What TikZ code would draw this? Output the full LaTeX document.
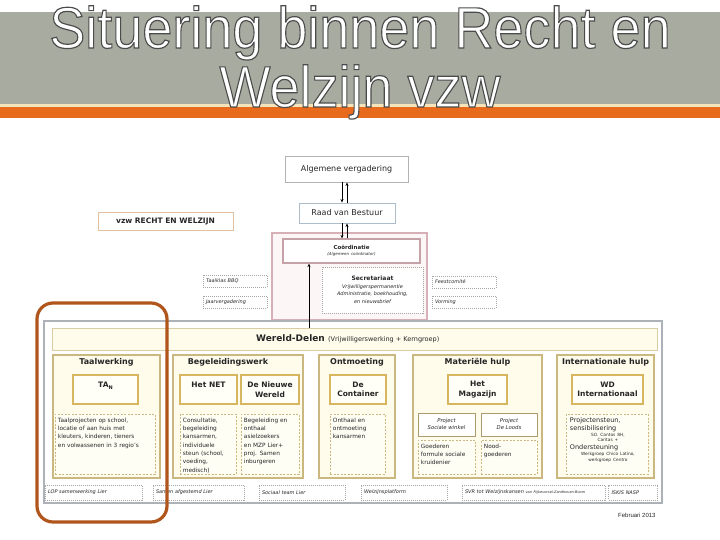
\documentclass[tikz,border=0pt]{standalone}
\usepackage{fontspec}
\setmainfont{DejaVu Sans}
\newfontfamily\titlefont{Liberation Sans}
\usetikzlibrary{positioning,arrows.meta}

\definecolor{bandgray}{RGB}{168,172,160}
\definecolor{bandcream}{RGB}{244,228,188}
\definecolor{bandorange}{RGB}{232,106,28}
\definecolor{ringbrown}{RGB}{176,86,28}
\definecolor{coltan}{RGB}{202,184,128}
\definecolor{colfill}{RGB}{255,252,236}
\definecolor{unitgold}{RGB}{216,182,96}
\definecolor{pinkline}{RGB}{214,176,182}
\definecolor{pinkfill}{RGB}{252,246,246}
\definecolor{framegray}{RGB}{172,178,184}
\definecolor{vzwline}{RGB}{226,192,160}
\definecolor{raadline}{RGB}{172,188,202}

% witte titel met donkere rand
\newcommand{\outlined}[1]{\special{pdf:literal direct 2 Tr 1.1 w 0.3 G}#1\special{pdf:literal direct 0 Tr}}

\begin{document}
\begin{tikzpicture}[x=1pt,y=-1pt,
    every node/.style={text=black!85,inner sep=1pt},
    arr/.style={-{Stealth[length=3.5pt,width=3pt]},black,line width=0.6pt},
    titletext/.style={anchor=base,text=white,font=\titlefont\fontsize{54}{60}\selectfont},
    topbox/.style={draw=gray!60,fill=white,line width=0.9pt,font=\fontsize{8}{9}\selectfont},
    sidebox/.style={draw=gray!70,dash pattern=on 1pt off 1pt,line width=0.5pt,text width=58,
        inner xsep=3pt,minimum height=12,align=left,font=\fontsize{5}{6}\selectfont\itshape},
    frame/.style={draw=framegray,fill=white,line width=1.5pt},
    header/.style={draw=coltan!70,fill=colfill,line width=0.8pt,minimum width=605,minimum height=22},
    column/.style={draw=coltan,fill=colfill,line width=1.1pt,minimum height=123},
    coltitle/.style={font=\fontsize{8}{9}\selectfont\bfseries},
    unitbox/.style={draw=unitgold,fill=white!60!colfill,line width=1.8pt,minimum height=29,
        align=center,font=\fontsize{7.5}{9.5}\selectfont\bfseries},
    notebox/.style={draw=coltan,dash pattern=on 2pt off 1.5pt,line width=0.5pt,
        fill=white!50!colfill,minimum height=60},
    notetext/.style={anchor=north west,inner sep=0pt,align=left,font=\fontsize{5.8}{8.3}\selectfont},
    projbox/.style={draw=coltan!85!black,line width=0.8pt,fill=white,minimum height=23,
        align=center,font=\fontsize{5.3}{7}\selectfont\itshape},
    linkbox/.style={draw=gray!70,dash pattern=on 1pt off 1pt,line width=0.6pt,minimum height=15,
        inner xsep=3pt,align=left,font=\fontsize{5}{6}\selectfont\itshape}]
\useasboundingbox (0,0) rectangle (720,540);

% titelband
\fill[bandgray] (0,12) rectangle (720,104);
\fill[bandcream] (0,104) rectangle (720,107);
\fill[bandorange] (0,107) rectangle (720,118);
\foreach \txt/\yy [count=\i] in {Situering binnen Recht en/48,Welzijn vzw/107}
    \node[titletext] (tt\i) at (360,\yy) {\scalebox{1}[1.08]{\outlined{\txt}}};

% bestuur
\node[topbox,minimum width=123,minimum height=26] (alg) at (346.5,169) {Algemene vergadering};
\node[topbox,draw=raadline,minimum width=96,minimum height=20] (raad) at (347,213) {Raad van Bestuur};
\node[topbox,draw=vzwline,minimum width=135,minimum height=18,font=\fontsize{7.5}{9}\selectfont\bfseries] (vzw) at (165.5,221) {vzw RECHT EN WELZIJN};
\node[draw=pinkline,fill=pinkfill,line width=1.2pt,minimum width=155,minimum height=87] (dagbestuur) at (349.5,276.5) {};
\node[draw=pinkline!92!black,fill=white,line width=1.2pt,minimum width=137,minimum height=24,
    text width=130,align=center,font=\fontsize{5.5}{6.5}\selectfont] (coord) at (351.5,251)
    {\textbf{Coördinatie}\\{\fontsize{4}{5}\selectfont\itshape (Algemeen coördinator)}};
\node[draw=gray!70,dash pattern=on 1pt off 1pt,line width=0.5pt,fill=white,minimum width=101,minimum height=46,
    text width=95,align=center,font=\fontsize{5}{7.5}\selectfont] (secr) at (372.5,290)
    {{\fontsize{6}{7.5}\selectfont\bfseries Secretariaat}\\ \itshape Vrijwilligerspermanentie\\ Administratie, boekhouding,\\ en nieuwsbrief};
\node[sidebox] (bbq) at (235,281) {Taalklas BBQ};
\node[sidebox] (jaarv) at (235,302) {Jaarvergadering};
\node[sidebox] (feest) at (464,282) {Feestcomité};
\node[sidebox] (vorm) at (464,302) {Vorming};

\coordinate (a1) at ([xshift=-4.5]alg.south);
\draw[arr] (a1) -- (a1 |- raad.north);
\draw[arr] (raad.north) -- (raad.north |- alg.south);
\coordinate (a2) at ([xshift=-5]raad.south);
\draw[arr] (a2) -- (a2 |- coord.north);
\draw[arr] (raad.south |- coord.north) -- (raad.south);

% werking
\node[frame,minimum width=618,minimum height=182] (werking) at (353,412) {};
\node[header] (header) at (354.5,339) {};
\node[anchor=west] (headerl) at (255,339) {{\fontsize{9}{10}\selectfont\bfseries Wereld-Delen} {\fontsize{6.5}{8}\selectfont (Vrijwilligerswerking + Kerngroep)}};
\coordinate (wdtop) at (309,328);
\draw[arr] (wdtop) -- (wdtop |- coord.south);

\foreach \name/\cx/\w in {taal/106.5/107,bgl/238/130,ontm/357/76,mat/477.5/129,intl/605.5/97}
    \node[column,minimum width=\w] (\name) at (\cx,416.5) {};
\node[coltitle,below=2.5pt of taal.north] (taalt) {Taalwerking};
\node[coltitle,below=2.5pt of bgl.north,xshift=-10pt] (bglt) {Begeleidingswerk};
\node[coltitle,below=2.5pt of ontm.north] (ontmt) {Ontmoeting};
\node[coltitle,below=2.5pt of mat.north] (matt) {Materiële hulp};
\node[coltitle,below=2.5pt of intl.north] (intlt) {Internationale hulp};

\node[unitbox,minimum width=65] (tan) at (105.5,389.5) {TA\raisebox{-0.4ex}{\fontsize{5}{6}\selectfont N}\\\mbox{}};
\node[unitbox,minimum width=57] (net) at (208.5,389.5) {Het NET\\\mbox{}};
\node[unitbox,minimum width=58] (nieuw) at (270,389.5) {De Nieuwe\\Wereld};
\node[unitbox,minimum width=56] (cont) at (358,389.5) {De\\Container};
\node[unitbox,minimum width=59] (mag) at (477.5,389.5) {Het\\Magazijn};
\node[unitbox,minimum width=71] (wdi) at (607.5,389.5) {WD\\Internationaal};

\foreach \name/\cx/\w in {taaln/105/100,netn/208/56,nieuwn/270/58,contn/357.5/55,intln/607/82}
    \node[notebox,minimum width=\w] (\name) at (\cx,444) {};
\node[projbox,minimum width=57] (sw) at (446.5,424.5) {Project\\Sociale winkel};
\node[projbox,minimum width=56] (loods) at (509,424.5) {Project\\De Loods};
\node[notebox,minimum width=57,minimum height=34] (goed) at (446.5,457) {};
\node[notebox,minimum width=56,minimum height=34] (nood) at (509,457) {};

\node[notetext,text width=95] (taalnl) at ([shift={(3,4)}]taaln.north west)
    {Taalprojecten op school,\\ locatie of aan huis met\\ kleuters, kinderen, tieners\\ en volwassenen in 3 regio's};
\node[notetext,text width=52] (netnl) at ([shift={(3,4)}]netn.north west)
    {Consultatie,\\ begeleiding\\ kansarmen,\\ individuele\\ steun (school,\\ voeding,\\ medisch)};
\node[notetext,text width=54] (nieuwnl) at ([shift={(3,4)}]nieuwn.north west)
    {Begeleiding en\\ onthaal\\ asielzoekers\\ en MZP Lier+\\ proj. Samen\\ inburgeren};
\node[notetext,text width=51] (contnl) at ([shift={(3,4)}]contn.north west)
    {Onthaal en\\ ontmoeting\\ kansarmen};
\node[notetext,text width=53] (goednl) at ([shift={(3,4)}]goed.north west)
    {Goederen\\ formule sociale\\ kruidenier};
\node[notetext,text width=52] (noodnl) at ([shift={(3,4)}]nood.north west)
    {Nood-\\ goederen};
\node[notetext,text width=76] (intlnl) at ([shift={(4,4)}]intln.north west)
    {{\fontsize{6.5}{7.5}\selectfont Projectensteun,\\ sensibilisering\par}%
     {\centering\fontsize{4.3}{5.8}\selectfont SO. Cantos 8H,\\ Caritas +\par}%
     {\fontsize{6.5}{7.5}\selectfont Ondersteuning\par}%
     {\centering\fontsize{4.3}{5.8}\selectfont Werkgroep Chico Latino,\\ werkgroep Centro\par}};

% partners
\foreach \name/\cx/\w/\txt in {lop/93.5/91/LOP samenwerking Lier,samen/198.5/85/Samen afgestemd Lier,
        team/302/80/Sociaal team Lier,plat/404/80/Welzijnsplatform,
        svr/533.5/137/SVR tot Welzijnskansen {\fontsize{3.5}{4}\selectfont van Rijkevorsel-Zandhoven-Boom},
        iskis/633/43/ISKIS NASP}
    \node[linkbox,text width=\w] (\name) at (\cx,492.5) {\txt};

\node[anchor=base west,font=\titlefont\fontsize{6}{7}\selectfont] (datum) at (617,517) {Februari 2013};

% markering
\draw[ringbrown,line width=3.2pt,rounded corners=16pt] (37,303) rectangle (167,522);
\end{tikzpicture}
\end{document}
